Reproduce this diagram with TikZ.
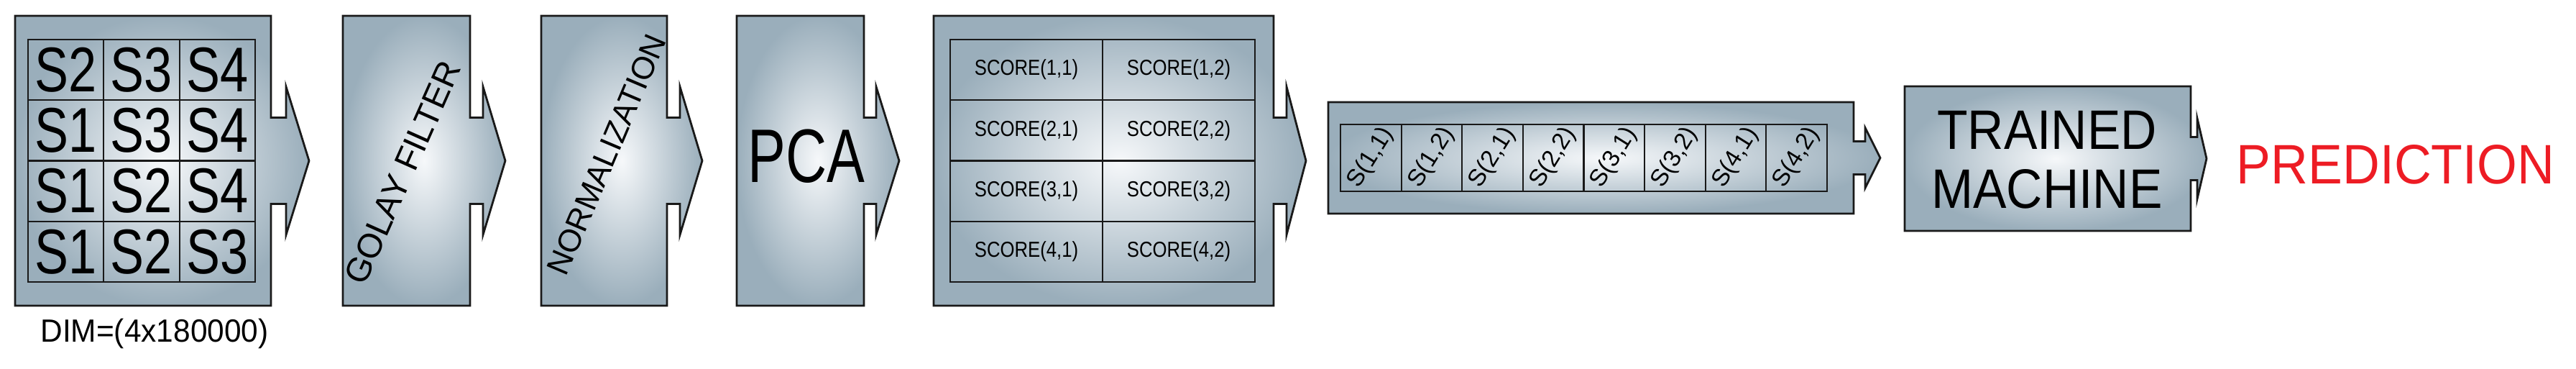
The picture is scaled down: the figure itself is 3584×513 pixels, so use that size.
\documentclass[tikz,border=0pt]{standalone}
\usepackage{fontspec}
\setmainfont{Liberation Sans}
\definecolor{stageedge}{HTML}{9AAEBB}
\definecolor{stagecore}{HTML}{F6F8FA}
\definecolor{predred}{HTML}{ED1C24}
\tikzset{
  stage/.style = {draw=black!90, line width=0.8pt, shading=radial, inner color=stagecore, outer color=stageedge},
  cell/.style = {draw=black!90, line width=0.6pt, inner sep=0pt},
  big/.style = {font=\fontsize{22}{26}\selectfont, inner sep=0pt, xscale=0.9},
  small/.style = {font=\fontsize{8.6}{10}\selectfont}
}
% x0, x1, ytop, ybot, notch end, tip, notch half, arrow half
\newcommand\stage[8]{%
  \pgfmathsetmacro\yc{(#3+#4)/2}
  \path[stage] (#1,#3) -- (#2,#3) -- (#2,{\yc-#7}) -- (#5,{\yc-#7}) -- (#5,{\yc-#8})
    -- (#6,\yc) -- (#5,{\yc+#8}) -- (#5,{\yc+#7}) -- (#2,{\yc+#7}) -- (#2,#4) -- (#1,#4) -- cycle;
}
\begin{document}
\begin{tikzpicture}[x=0.01cm, y=-0.01cm]
    \useasboundingbox (0,0) rectangle (3584,513);
    \stage{21}{377}{22}{425}{398}{430}{60}{103}
    \stage{477}{654}{22}{425}{672}{703}{60}{103}
    \stage{753}{928}{22}{425}{946}{977}{60}{103}
    \stage{1025}{1202}{22}{425}{1219}{1251}{60}{103}
    \stage{1299}{1772}{22}{425}{1790}{1817}{60}{103}
    \stage{1848}{2579}{142}{297}{2595}{2616}{23}{42}
    \stage{2650}{3048}{120}{321}{3057}{3070}{30}{56}
    % sensor matrix
    \foreach \r/\row in {1/{S2,S3,S4}, 2/{S1,S3,S4}, 3/{S1,S2,S4}, 4/{S1,S2,S3}} {
        \foreach \s [count=\c] in \row {
            \node [cell, font=\fontsize{25}{30}\selectfont, minimum width=1.053cm, minimum height=0.8425cm]
                (s-\r-\c) at ({39+105.3*(\c-0.5)}, {55+84.25*(\r-0.5)}) {\scalebox{0.8}[1]{\s}};
        }
    }
    \node [font=\fontsize{12.7}{15}\selectfont, inner sep=0pt, xscale=0.95] (dim) at (215,464) {DIM=(4x180000)};
    \node [font=\fontsize{13.5}{16}\selectfont, rotate=66, inner sep=0pt] (golay) at (560,240) {GOLAY FILTER};
    \node [font=\fontsize{12.5}{15}\selectfont, rotate=67, inner sep=0pt] (norm) at (844,215) {NORMALIZATION};
    \node [font=\fontsize{30}{36}\selectfont, inner sep=0pt, xscale=0.75] (pca) at (1122,217) {PCA};
    % score matrix
    \foreach \r in {1,...,4} {
        \foreach \c in {1,2} {
            \node [cell, small, minimum width=2.12cm, minimum height=0.8425cm]
                (sc-\r-\c) at ({1322+212*(\c-0.5)}, {55+84.25*(\r-0.5)}) {\scalebox{0.85}[1]{SCORE(\r,\c)}};
        }
    }
    % score vector
    \foreach \r/\c [count=\i] in {1/1,1/2,2/1,2/2,3/1,3/2,4/1,4/2} {
        \node [cell, font=\fontsize{9.5}{11}\selectfont, minimum width=0.846cm, minimum height=0.85cm]
            (v-\i) at ({1865+84.6*(\i-0.5)}, 219.5) {\rotatebox{58}{S(\r,\c)}};
    }
    \node [big, align=center, font=\fontsize{22}{23.2}\selectfont] (trained) at (2848,222) {TRAINED\\MACHINE};
    \node [big, text=predred, xscale=1.03] (pred) at (3333,229) {PREDICTION};
\end{tikzpicture}
\end{document}
